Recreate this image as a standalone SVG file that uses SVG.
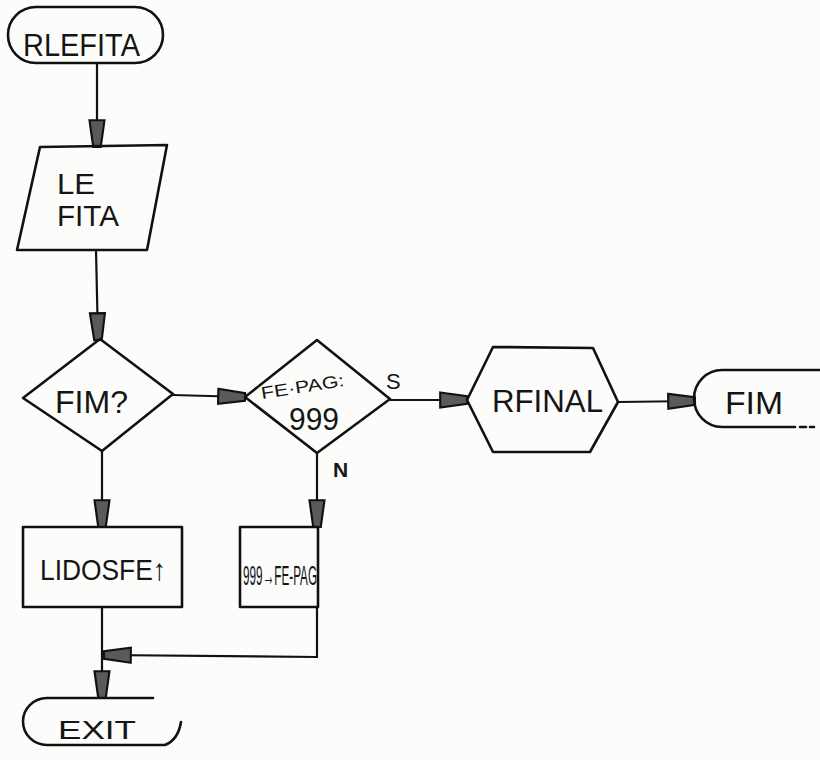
<svg xmlns="http://www.w3.org/2000/svg" width="820" height="760" viewBox="0 0 820 760">
<defs>
<style>
.shape{fill:none;stroke:#111;stroke-width:2.6;stroke-linejoin:round;stroke-linecap:round}
.line{fill:none;stroke:#111;stroke-width:2.2}
.t{font-family:"Liberation Sans","DejaVu Sans",sans-serif;fill:#151515}
</style>
<marker id="ah" markerUnits="userSpaceOnUse" markerWidth="30" markerHeight="20" viewBox="-26 -9 28 18" refX="0" refY="0" orient="auto">
<path d="M-25,-7 L0,-3.5 L0,3.5 L-25,7 Z" fill="#5a5a5a" stroke="#111" stroke-width="2"/>
</marker>
</defs>
<rect width="820" height="760" fill="#fcfcfa"/>

<g id="connectors">
<path class="line" d="M97,63 L97,147" marker-end="url(#ah)"/>
<path class="line" d="M96,250 L98,340" marker-end="url(#ah)"/>
<path class="line" d="M173,395 L245,397" marker-end="url(#ah)"/>
<path class="line" d="M390,400 L467,400" marker-end="url(#ah)"/>
<path class="line" d="M618,402 L695,401" marker-end="url(#ah)"/>
<path class="line" d="M102,450 L102,527" marker-end="url(#ah)"/>
<path class="line" d="M317,453 L317,527" marker-end="url(#ah)"/>
<path class="line" d="M102,607 L102,698" marker-end="url(#ah)"/>
<path class="line" d="M317,607 L317,657 L104,655" marker-end="url(#ah)"/>
</g>

<g id="start">
<rect class="shape" x="8" y="7" width="155" height="56" rx="28" ry="28"/>
<text class="t" x="23" y="56" font-size="32" textLength="117" lengthAdjust="spacingAndGlyphs">RLEFITA</text>
</g>

<g id="lefita">
<polygon class="shape" points="40,147 167,145 147,250 17,250"/>
<text class="t" x="57" y="194" font-size="29" textLength="38" lengthAdjust="spacingAndGlyphs">LE</text>
<text class="t" x="57" y="226" font-size="30" textLength="62" lengthAdjust="spacingAndGlyphs">FITA</text>
</g>

<g id="fim-decision">
<polygon class="shape" points="100,339 173,394 102,451 23,398"/>
<text class="t" x="55" y="413" font-size="31" textLength="73" lengthAdjust="spacingAndGlyphs">FIM?</text>
</g>

<g id="fepag-decision">
<polygon class="shape" points="317,340 390,399 317,453 245,397"/>
<text class="t" x="262" y="399" font-size="17" textLength="84" lengthAdjust="spacingAndGlyphs" transform="rotate(-9 262 399)">FE·PAG:</text>
<text class="t" x="289" y="430" font-size="32" textLength="50" lengthAdjust="spacingAndGlyphs">999</text>
<text class="t" x="386" y="389" font-size="22">S</text>
<text class="t" x="333" y="477" font-size="21" font-weight="bold">N</text>
</g>

<g id="rfinal">
<polygon class="shape" points="493,347 593,348 618,402 590,452 493,452 467,400"/>
<text class="t" x="492" y="412" font-size="32" textLength="111" lengthAdjust="spacingAndGlyphs">RFINAL</text>
</g>

<g id="fim-end">
<path class="shape" d="M820,370 L722,370 A28,28.5 0 0 0 722,427 L795,427"/>
<path class="shape" d="M800,427 L806,427 M810,427 L814,427" stroke-width="1.5"/>
<text class="t" x="725" y="414" font-size="32" textLength="58" lengthAdjust="spacingAndGlyphs">FIM</text>
</g>

<g id="lidosfe">
<rect class="shape" x="23" y="527" width="159" height="80"/>
<text class="t" x="40" y="580" font-size="30" textLength="126" lengthAdjust="spacingAndGlyphs">LIDOSFE↑</text>
</g>

<g id="assign">
<rect class="shape" x="240" y="527" width="78" height="80"/>
<text class="t" x="243" y="585" font-size="27" textLength="74" lengthAdjust="spacingAndGlyphs">999→FE-PAG</text>
</g>

<g id="exit">
<path class="shape" d="M153,698 L47,698 A24,23.5 0 0 0 47,745 L165,745 Q178,740 181,722"/>
<text class="t" x="58" y="739" font-size="26" textLength="78" lengthAdjust="spacingAndGlyphs">EXIT</text>
</g>
</svg>
